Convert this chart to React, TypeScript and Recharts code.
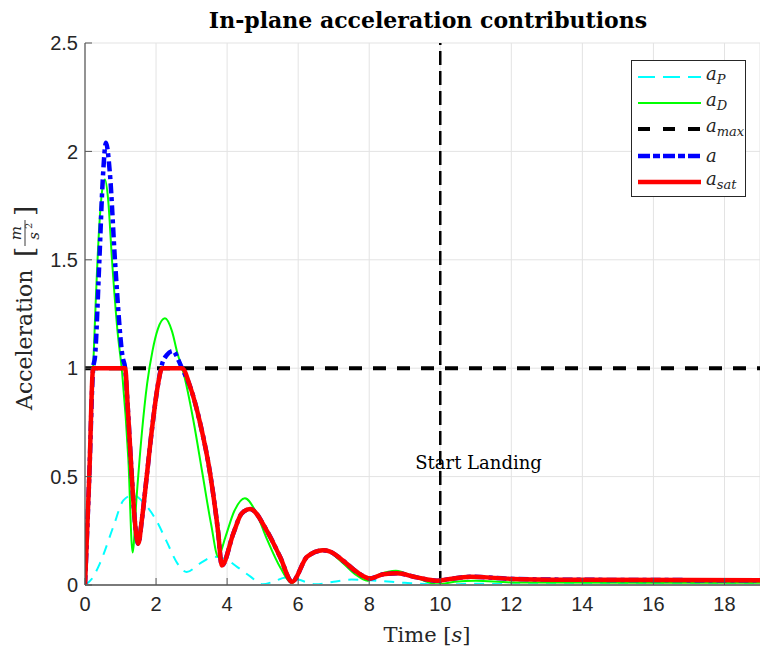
import React from 'react';
import { LineChart, Line, XAxis, YAxis, CartesianGrid, ReferenceLine } from 'recharts';

// time ticks and acceleration ticks
const xTicks = [0, 2, 4, 6, 8, 10, 12, 14, 16, 18];
const yTicks = [0, 0.5, 1, 1.5, 2, 2.5];
const landingTime = 10;

// a_P (proportional term)
const pTime = [0, 0.2, 0.42, 0.8, 1.08, 1.35, 1.7, 2.0, 2.3, 2.6, 2.86, 3.24, 3.62, 3.95, 4.27, 4.65, 5.0, 5.3, 5.65, 6.0, 6.5, 7.0, 7.5, 8.2, 9.0, 10.0, 11.0, 12.0, 19.0];
const pValues = [0, 0.03, 0.1, 0.27, 0.39, 0.415, 0.37, 0.3, 0.2, 0.1, 0.06, 0.1, 0.13, 0.12, 0.085, 0.04, 0.003, 0.015, 0.035, 0.025, 0.003, 0.015, 0.025, 0.02, 0.01, 0.002, 0.006, 0.004, 0.003];

// a_D (derivative term)
const dTime = [0, 0.12, 0.23, 0.3, 0.4, 0.5, 0.56, 0.65, 0.76, 0.91, 1.05, 1.22, 1.34, 1.45, 1.6, 1.75, 1.9, 2.05, 2.25, 2.45, 2.6, 2.77, 3.05, 3.3, 3.55, 3.75, 3.95, 4.2, 4.5, 4.8, 5.1, 5.5, 5.83, 6.2, 6.7, 7.2, 7.6, 7.95, 8.3, 8.75, 9.3, 9.95, 10.4, 11.0, 12.0, 19.0];
const dValues = [0, 0.5, 1.0, 1.3, 1.65, 1.84, 1.87, 1.78, 1.5, 1.18, 0.97, 0.58, 0.15, 0.4, 0.7, 0.93, 1.08, 1.18, 1.23, 1.17, 1.07, 0.98, 0.76, 0.52, 0.28, 0.13, 0.22, 0.34, 0.4, 0.34, 0.22, 0.08, 0.01, 0.12, 0.165, 0.11, 0.05, 0.02, 0.05, 0.066, 0.035, 0.003, 0.015, 0.02, 0.012, 0.01];

// a_max limit
const maxTime = [0, 19];
const maxValues = [1, 1];

// a (unsaturated command)
const aTime = [0, 0.12, 0.23, 0.28, 0.4, 0.5, 0.59, 0.7, 0.85, 1.06, 1.13, 1.2, 1.3, 1.4, 1.5, 1.6, 1.75, 1.9, 2.05, 2.17, 2.3, 2.48, 2.62, 2.73, 2.96, 3.24, 3.52, 3.75, 3.85, 4.18, 4.41, 4.65, 5.12, 5.49, 5.83, 6.25, 6.7, 6.9, 7.28, 7.65, 8.03, 8.4, 8.78, 9.34, 9.91, 10.19, 10.85, 12.06, 14.0, 19.0];
const aValues = [0, 0.5, 1.0, 1.05, 1.48, 1.87, 2.04, 1.9, 1.48, 1.05, 1.0, 0.83, 0.55, 0.3, 0.19, 0.3, 0.52, 0.74, 0.92, 1.02, 1.06, 1.08, 1.04, 1.0, 0.915, 0.747, 0.516, 0.24, 0.09, 0.24, 0.33, 0.35, 0.25, 0.13, 0.015, 0.13, 0.16, 0.154, 0.11, 0.06, 0.03, 0.05, 0.054, 0.035, 0.02, 0.026, 0.038, 0.028, 0.024, 0.022];

// a_sat (saturated command)
const satTime = [0, 0.12, 0.23, 1.13, 1.2, 1.3, 1.4, 1.5, 1.6, 1.75, 1.9, 2.05, 2.17, 2.73, 2.96, 3.24, 3.52, 3.75, 3.85, 4.18, 4.41, 4.65, 5.12, 5.49, 5.83, 6.25, 6.7, 6.9, 7.28, 7.65, 8.03, 8.4, 8.78, 9.34, 9.91, 10.19, 10.85, 12.06, 14.0, 19.0];
const satValues = [0, 0.5, 1.0, 1.0, 0.83, 0.55, 0.3, 0.19, 0.3, 0.52, 0.74, 0.92, 1.0, 1.0, 0.915, 0.747, 0.516, 0.24, 0.09, 0.24, 0.33, 0.35, 0.25, 0.13, 0.015, 0.13, 0.16, 0.154, 0.11, 0.06, 0.03, 0.05, 0.054, 0.035, 0.02, 0.026, 0.038, 0.028, 0.024, 0.022];

const toPoints = (ts: number[], vs: number[]) => ts.map((t, i) => ({ t, v: vs[i] }));

const series = [
    { key: 'aP', sub: 'P', data: toPoints(pTime, pValues), color: '#00ffff', width: 2, dash: '10 8', legendDash: '17 8' },
    { key: 'aD', sub: 'D', data: toPoints(dTime, dValues), color: '#00ff00', width: 2, dash: undefined, legendDash: undefined },
    { key: 'aMax', sub: 'max', data: toPoints(maxTime, maxValues), color: '#000000', width: 4, dash: '13 11', legendDash: '12 13' },
    { key: 'a', sub: '', data: toPoints(aTime, aValues), color: '#0000ff', width: 4.5, dash: '10 4 4 4', legendDash: '12 3 7 3' },
    { key: 'aSat', sub: 'sat', data: toPoints(satTime, satValues), color: '#ff0000', width: 4.5, dash: undefined, legendDash: undefined },
];

const serif = '"DejaVu Serif", "Liberation Serif", serif';
const sans = '"Liberation Sans", Arial, sans-serif';
const textColor = '#262626';

const LandingLabel = (props: any) => {
    const vb = props.viewBox || {};
    return (
        <text x={vb.x - 25} y={469} fontFamily={serif} fontSize={18} fill="#000">
            Start Landing
        </text>
    );
};

const XLabel = () => (
    <text x={427} y={642} textAnchor="middle" fontFamily={serif} fontSize={21} fill={textColor}>
        Time [<tspan fontStyle="italic">s</tspan>]
    </text>
);

// rotated y label with the m/s^2 fraction
const YLabel = () => (
    <g transform="translate(24, 305) rotate(-90)" fontFamily={serif} fill={textColor}>
        <text x={-105} y={8} fontSize={22}>Acceleration</text>
        <text x={48} y={10} fontSize={26}>[</text>
        <text x={72} y={-3} fontSize={15} fontStyle="italic" textAnchor="middle">m</text>
        <line x1={59} x2={85} y1={1} y2={1} stroke={textColor} strokeWidth={0.9} />
        <text x={69} y={15} fontSize={15} fontStyle="italic" textAnchor="middle">s</text>
        <text x={76} y={8} fontSize={10}>2</text>
        <text x={89} y={10} fontSize={26}>]</text>
    </g>
);

const LegendBox = () => (
    <div style={{ position: 'absolute', left: 631, top: 60, width: 113, height: 135, background: '#fff', border: '1px solid #262626' }}>
        {series.map((s, i) => (
            <div key={s.key} style={{ position: 'absolute', left: 6, top: 3 + i * 26.2, height: 26, display: 'flex', alignItems: 'center' }}>
                <svg width={63} height={10}>
                    <line x1={0} x2={63} y1={5} y2={5} stroke={s.color} strokeWidth={s.width} strokeDasharray={s.legendDash} />
                </svg>
                <span style={{ marginLeft: 5, fontFamily: serif, fontStyle: 'italic', fontSize: 18, color: textColor, lineHeight: '20px' }}>
                    a{s.sub && <sub style={{ fontSize: 13, verticalAlign: '-4px' }}>{s.sub}</sub>}
                </span>
            </div>
        ))}
    </div>
);

export default function App() {
    return (
        <div style={{ position: 'absolute', left: 0, top: 0, width: 760, height: 652, background: '#fff' }}>
            <div style={{ position: 'absolute', left: 0, top: 7, width: 760, textAlign: 'center', paddingLeft: 96, boxSizing: 'border-box', fontFamily: serif, fontWeight: 'bold', fontSize: 22, color: '#000' }}>
                In-plane acceleration contributions
            </div>
            <LineChart width={760} height={652} margin={{ top: 43, right: 0, bottom: 27, left: 25 }}>
                <CartesianGrid stroke="#e3e3e3" strokeWidth={1} />
                <XAxis
                    dataKey="t"
                    type="number"
                    domain={[0, 19]}
                    ticks={xTicks}
                    height={40}
                    allowDataOverflow
                    axisLine={{ stroke: '#7a7a7a', strokeWidth: 2 }}
                    tickLine={{ stroke: '#555' }}
                    tickSize={-7}
                    tickMargin={19}
                    tick={{ fill: textColor, fontFamily: sans, fontSize: 20 }}
                    label={<XLabel />}
                />
                <YAxis
                    type="number"
                    domain={[0, 2.5]}
                    ticks={yTicks}
                    width={60}
                    allowDataOverflow
                    axisLine={{ stroke: '#555', strokeWidth: 1.2 }}
                    tickLine={{ stroke: '#555' }}
                    tickSize={-7}
                    tickMargin={14}
                    tick={{ fill: textColor, fontFamily: sans, fontSize: 20 }}
                    label={<YLabel />}
                />
                <ReferenceLine x={landingTime} stroke="#000" strokeWidth={2.5} strokeDasharray="14 6" label={<LandingLabel />} />
                {series.map(s => (
                    <Line
                        key={s.key}
                        data={s.data}
                        dataKey="v"
                        type="monotone"
                        stroke={s.color}
                        strokeWidth={s.width}
                        strokeDasharray={s.dash}
                        dot={false}
                        activeDot={false}
                        isAnimationActive={false}
                    />
                ))}
            </LineChart>
            <LegendBox />
        </div>
    );
}
